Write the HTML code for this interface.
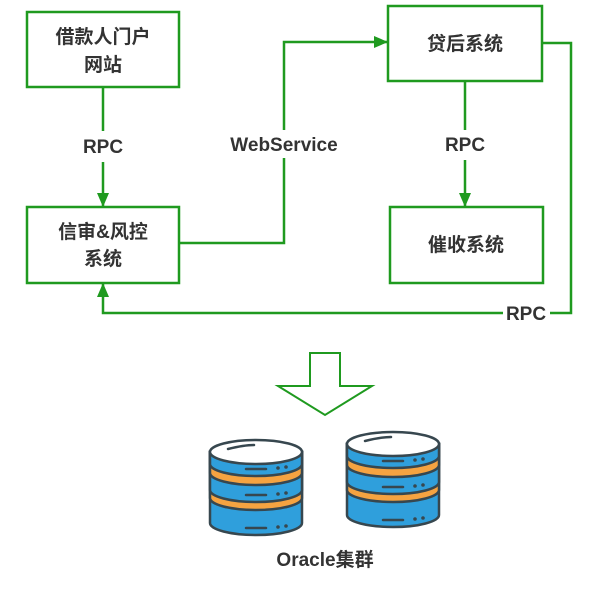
<!DOCTYPE html>
<html><head><meta charset="utf-8"><style>
body{margin:0;background:#fff;}
svg text{font-family:"Liberation Sans","Noto Sans CJK SC",sans-serif;font-weight:bold;fill:#333;}
</style></head><body>
<svg width="602" height="591" viewBox="0 0 602 591" xmlns="http://www.w3.org/2000/svg">
<defs>
<marker id="a" markerWidth="14" markerHeight="12" refX="13" refY="6" orient="auto" markerUnits="userSpaceOnUse"><path d="M0,0 L14,6 L0,12 Z" fill="#1f9a1f"/></marker>
<g id="db">
 <g stroke="#37474f" stroke-width="2.5">
  <path d="M-46,0 V71 A46,12 0 0 0 46,71 V0 Z" fill="#2f9fdc"/>
  <path d="M-46,0 V46 A46,12 0 0 0 46,46 V0 Z" fill="#f5a341"/>
  <path d="M-46,0 V38 A46,12 0 0 0 46,38 V0 Z" fill="#2f9fdc"/>
  <path d="M-46,0 V21 A46,12 0 0 0 46,21 V0 Z" fill="#f5a341"/>
  <path d="M-46,0 V12 A46,12 0 0 0 46,12 V0 Z" fill="#2f9fdc"/>
  <ellipse cx="0" cy="0" rx="46" ry="12" fill="#fff"/>
 </g>
 <g stroke="#37474f" stroke-width="2.5" stroke-linecap="round" fill="none">
  <path d="M-28,-3 Q-12,-7 -2,-7"/>
  <line x1="-10" y1="17" x2="10" y2="17"/><line x1="-10" y1="43" x2="10" y2="43"/><line x1="-10" y1="76" x2="10" y2="76"/>
 </g>
 <g fill="#37474f">
  <circle cx="22" cy="16" r="1.8"/><circle cx="30" cy="15" r="1.8"/>
  <circle cx="22" cy="42" r="1.8"/><circle cx="30" cy="41" r="1.8"/>
  <circle cx="22" cy="75" r="1.8"/><circle cx="30" cy="74" r="1.8"/>
 </g>
</g>
</defs>
<g fill="#fff" stroke="#1f9a1f" stroke-width="2.5">
<rect x="27" y="12" width="152" height="75"/>
<rect x="27" y="207" width="152" height="76"/>
<rect x="388" y="6" width="154" height="75"/>
<rect x="390" y="207" width="153" height="76"/>
</g>
<g fill="none" stroke="#1f9a1f" stroke-width="2.5">
<line x1="103" y1="87" x2="103" y2="131"/>
<line x1="103" y1="162" x2="103" y2="206" marker-end="url(#a)"/>
<polyline points="179,243 284,243 284,158"/>
<polyline points="284,130 284,42 387,42" marker-end="url(#a)"/>
<line x1="465" y1="81" x2="465" y2="130"/>
<line x1="465" y1="160" x2="465" y2="206" marker-end="url(#a)"/>
<polyline points="542,43 571,43 571,313 550,313"/>
<polyline points="503,313 103,313 103,284" marker-end="url(#a)"/>
<path d="M310,353 H340 V386 H372 L325,415 L278,386 H310 Z" stroke-width="2"/>
</g>
<g font-size="19" text-anchor="middle">
<text x="103" y="43">借款人门户</text><text x="103" y="71">网站</text>
<text x="103" y="238">信审&amp;风控</text><text x="103" y="265">系统</text>
<text x="465" y="50">贷后系统</text>
<text x="466" y="251">催收系统</text>
<text x="103" y="153">RPC</text>
<text x="284" y="151">WebService</text>
<text x="465" y="151">RPC</text>
<text x="526" y="320">RPC</text>
<text x="325" y="566">Oracle集群</text>
</g>
<use href="#db" x="256" y="452"/>
<use href="#db" x="393" y="444"/>
</svg>
</body></html>
